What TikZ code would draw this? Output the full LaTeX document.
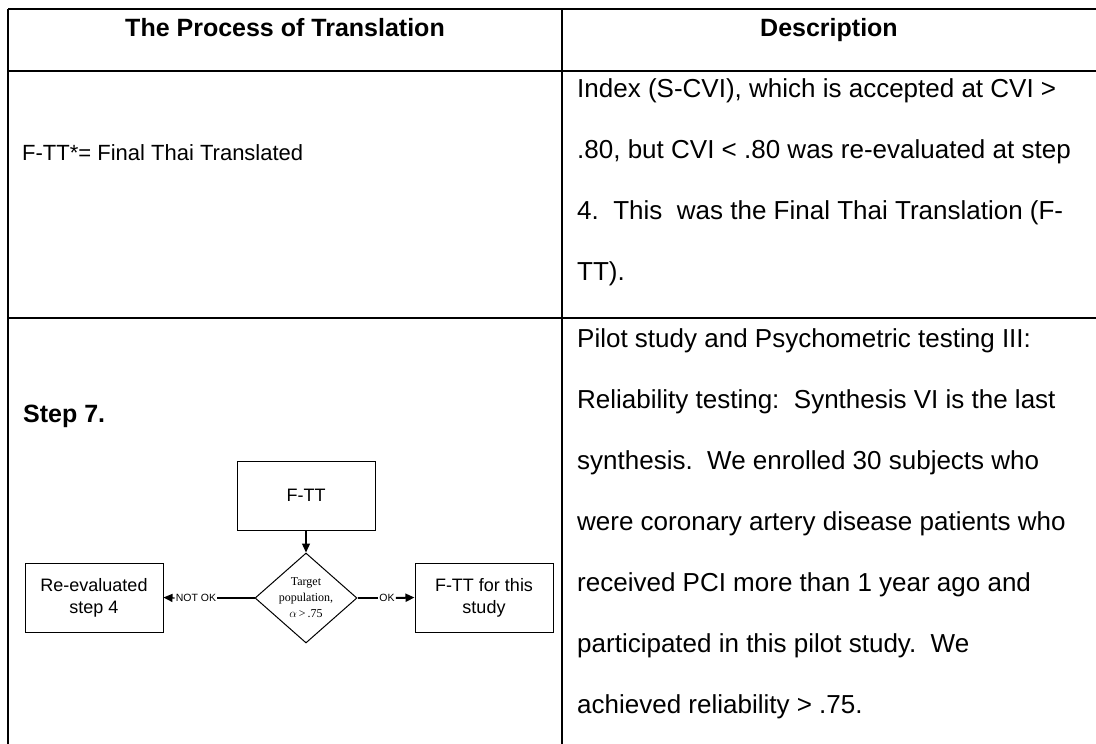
\documentclass[tikz,border=0pt]{standalone}
\usepackage{fontspec}
\setmainfont{Liberation Sans}
\newfontfamily\tnr{Liberation Serif}
\usetikzlibrary{arrows.meta,shapes.geometric}
\begin{document}
\begin{tikzpicture}[x=1pt,y=-1pt,
  rule/.style={line width=2pt},
  body/.style={anchor=base west,inner sep=0pt,font=\fontsize{26}{30}\selectfont},
  head/.style={anchor=base,inner sep=0pt,font=\fontsize{25}{30}\selectfont\bfseries},
  fbox/.style={draw,line width=1pt,minimum width=138pt,minimum height=69pt,align=center,inner sep=0pt,font=\fontsize{18}{22}\selectfont},
  dec/.style={draw,diamond,line width=1pt,minimum width=102pt,minimum height=90pt,inner sep=0pt},
  dectext/.style={align=center,inner sep=0pt,font=\tnr\fontsize{12}{16}\selectfont},
  lab/.style={inner sep=1pt,font=\fontsize{10.5}{12}\selectfont},
  conn/.style={line width=1.3pt},
  arr/.style={line width=1.3pt,-{Triangle[length=9pt,width=8pt]}}
]
\useasboundingbox (0,0) rectangle (1096,744);
% table rules
\coordinate (tl) at (8,9);
\coordinate (tr) at (1096,9);
\coordinate (hl) at (8,71);
\coordinate (hr) at (1096,71);
\coordinate (rl) at (8,318);
\coordinate (rr) at (1096,318);
\coordinate (bl) at (8,744);
\coordinate (dt) at (562,9);
\coordinate (db) at (562,744);
\draw[rule] (tl) -- (tr);
\draw[rule] (hl) -- (hr);
\draw[rule] (rl) -- (rr);
\draw[rule] (tl) -- (bl);
\draw[rule] (dt) -- (db);
% header
\node[head] (h1) at (285,36) {The Process of Translation};
\node[head] (h2) at (829,36) {Description};
% row 1
\foreach \t [count=\i] in {{Index (S-CVI), which is accepted at CVI >},{.80, but CVI < .80 was re-evaluated at step},{4.\ \ This\ \ was the Final Thai Translation (F-},{TT).}}
  \node[body] (ra\i) at (577,{97.5+61*(\i-1)}) {\t};
\node[body,font=\fontsize{22}{26}\selectfont] (note) at (22,160) {F-TT*= Final Thai Translated};
% row 2
\foreach \t [count=\i] in {{Pilot study and Psychometric testing III:},{Reliability testing:\ \ Synthesis VI is the last},{synthesis.\ \ We enrolled 30 subjects who},{were coronary artery disease patients who},{received PCI more than 1 year ago and},{participated in this pilot study.\ \ We},{achieved reliability > .75.}}
  \node[body] (rb\i) at (577,{347.5+61*(\i-1)}) {\t};
\node[body,font=\fontsize{25}{30}\selectfont\bfseries] (step) at (23,422) {Step 7.};
% flowchart
\node[fbox] (ftt) at (306,495.5) {F-TT};
\node[dec] (dia) at (306,598) {};
\node[dectext] (diat) at (306,598) {Target\\population,\\$\alpha$\,>\,.75};
\node[fbox] (re) at (94,597.5) {Re-evaluated\\step 4};
\node[fbox] (st) at (484,597.5) {F-TT for this\\study};
\node[lab] (nok) at (196,598) {NOT OK};
\node[lab] (ok) at (387,598) {OK};
\draw[arr] (ftt.south) -- (dia.north);
\draw[conn] (dia.west) -- (nok.east);
\draw[arr] (nok.west) -- (re.east);
\draw[line width=2.5pt] (dia.east) -- (ok.west);
\draw[arr,line width=2pt] (ok.east) -- (st.west);
\end{tikzpicture}
\end{document}
